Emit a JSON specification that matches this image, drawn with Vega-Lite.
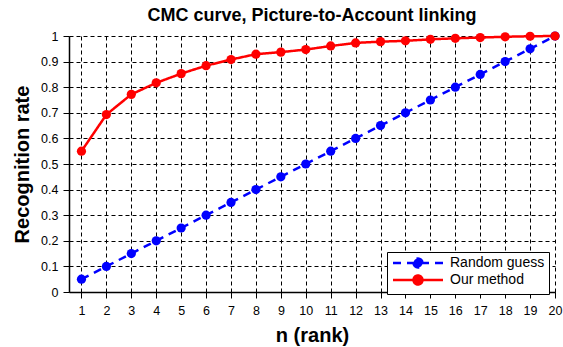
{
  "$schema": "https://vega.github.io/schema/vega-lite/v6.json",
  "width": 486,
  "height": 256,
  "autosize": {"type": "none"},
  "padding": {"left": 69, "top": 36, "right": 8, "bottom": 55},
  "background": "white",
  "config": {"font": "Liberation Sans", "view": {"stroke": null}},
  "title": {"text": "CMC curve, Picture-to-Account linking", "fontSize": 18, "font": "Liberation Sans", "fontWeight": "bold", "offset": 5, "anchor": "middle", "color": "black"},
  "data": {"values": [
    {"n": 1, "rate": 0.05, "series": "Random guess"},
    {"n": 2, "rate": 0.10, "series": "Random guess"},
    {"n": 3, "rate": 0.15, "series": "Random guess"},
    {"n": 4, "rate": 0.20, "series": "Random guess"},
    {"n": 5, "rate": 0.25, "series": "Random guess"},
    {"n": 6, "rate": 0.30, "series": "Random guess"},
    {"n": 7, "rate": 0.35, "series": "Random guess"},
    {"n": 8, "rate": 0.40, "series": "Random guess"},
    {"n": 9, "rate": 0.45, "series": "Random guess"},
    {"n": 10, "rate": 0.50, "series": "Random guess"},
    {"n": 11, "rate": 0.55, "series": "Random guess"},
    {"n": 12, "rate": 0.60, "series": "Random guess"},
    {"n": 13, "rate": 0.65, "series": "Random guess"},
    {"n": 14, "rate": 0.70, "series": "Random guess"},
    {"n": 15, "rate": 0.75, "series": "Random guess"},
    {"n": 16, "rate": 0.80, "series": "Random guess"},
    {"n": 17, "rate": 0.85, "series": "Random guess"},
    {"n": 18, "rate": 0.90, "series": "Random guess"},
    {"n": 19, "rate": 0.95, "series": "Random guess"},
    {"n": 20, "rate": 1.00, "series": "Random guess"},
    {"n": 1, "rate": 0.55, "series": "Our method"},
    {"n": 2, "rate": 0.693, "series": "Our method"},
    {"n": 3, "rate": 0.772, "series": "Our method"},
    {"n": 4, "rate": 0.817, "series": "Our method"},
    {"n": 5, "rate": 0.853, "series": "Our method"},
    {"n": 6, "rate": 0.884, "series": "Our method"},
    {"n": 7, "rate": 0.908, "series": "Our method"},
    {"n": 8, "rate": 0.929, "series": "Our method"},
    {"n": 9, "rate": 0.937, "series": "Our method"},
    {"n": 10, "rate": 0.947, "series": "Our method"},
    {"n": 11, "rate": 0.961, "series": "Our method"},
    {"n": 12, "rate": 0.973, "series": "Our method"},
    {"n": 13, "rate": 0.978, "series": "Our method"},
    {"n": 14, "rate": 0.981, "series": "Our method"},
    {"n": 15, "rate": 0.987, "series": "Our method"},
    {"n": 16, "rate": 0.991, "series": "Our method"},
    {"n": 17, "rate": 0.994, "series": "Our method"},
    {"n": 18, "rate": 0.997, "series": "Our method"},
    {"n": 19, "rate": 0.999, "series": "Our method"},
    {"n": 20, "rate": 1.0, "series": "Our method"}
  ]},
  "mark": {"type": "line", "strokeWidth": 2.5, "point": {"filled": true, "size": 85, "opacity": 1}},
  "encoding": {
    "x": {"field": "n", "type": "quantitative",
      "scale": {"domain": [0.5, 20], "nice": false, "zero": false},
      "axis": {"values": [1,2,3,4,5,6,7,8,9,10,11,12,13,14,15,16,17,18,19,20],
        "title": "n (rank)", "titleFontSize": 20, "titleFontWeight": "bold", "titleColor": "black", "titlePadding": 9,
        "labelFontSize": 12.5, "labelColor": "black", "labelPadding": 6, "labelFlush": false,
        "grid": true, "gridColor": "black", "gridDash": [4, 3], "gridOpacity": 1, "gridWidth": 1,
        "domainColor": "black", "domainWidth": 1.5, "tickColor": "black", "tickSize": 6, "tickWidth": 1}},
    "y": {"field": "rate", "type": "quantitative",
      "scale": {"domain": [0, 1], "nice": false},
      "axis": {"values": [0, 0.1, 0.2, 0.3, 0.4, 0.5, 0.6, 0.7, 0.8, 0.9, 1], "format": ".1~f",
        "title": "Recognition rate", "titleFontSize": 20, "titleFontWeight": "bold", "titleColor": "black", "titlePadding": 8,
        "labelFontSize": 12.5, "labelColor": "black", "labelPadding": 5, "labelFlush": false,
        "grid": true, "gridColor": "black", "gridDash": [4, 3], "gridOpacity": 1, "gridWidth": 1,
        "domainColor": "black", "domainWidth": 1.5, "tickColor": "black", "tickSize": 6, "tickWidth": 1}},
    "color": {"field": "series", "type": "nominal",
      "scale": {"domain": ["Random guess", "Our method"], "range": ["#0000ff", "#ff0000"]},
      "legend": {"orient": "none", "legendX": 318, "legendY": 216, "title": null,
        "strokeColor": "black", "fillColor": "white", "padding": 4, "cornerRadius": 0,
        "labelFontSize": 14, "labelColor": "black", "labelOffset": 45,
        "symbolType": "M-1,0H9M3.1,0A0.9,0.9 0 1,0 4.9,0A0.9,0.9 0 1,0 3.1,0",
        "symbolSize": 100, "symbolStrokeWidth": 2.5, "rowPadding": -3,
        "encode": {"symbols": {"update": {"fill": {"scale": "color", "field": "value"}, "fillOpacity": {"value": 1}}}}}},
    "strokeDash": {"field": "series", "type": "nominal",
      "scale": {"domain": ["Random guess", "Our method"], "range": [[8, 6], [1, 0]]}}
  }
}
